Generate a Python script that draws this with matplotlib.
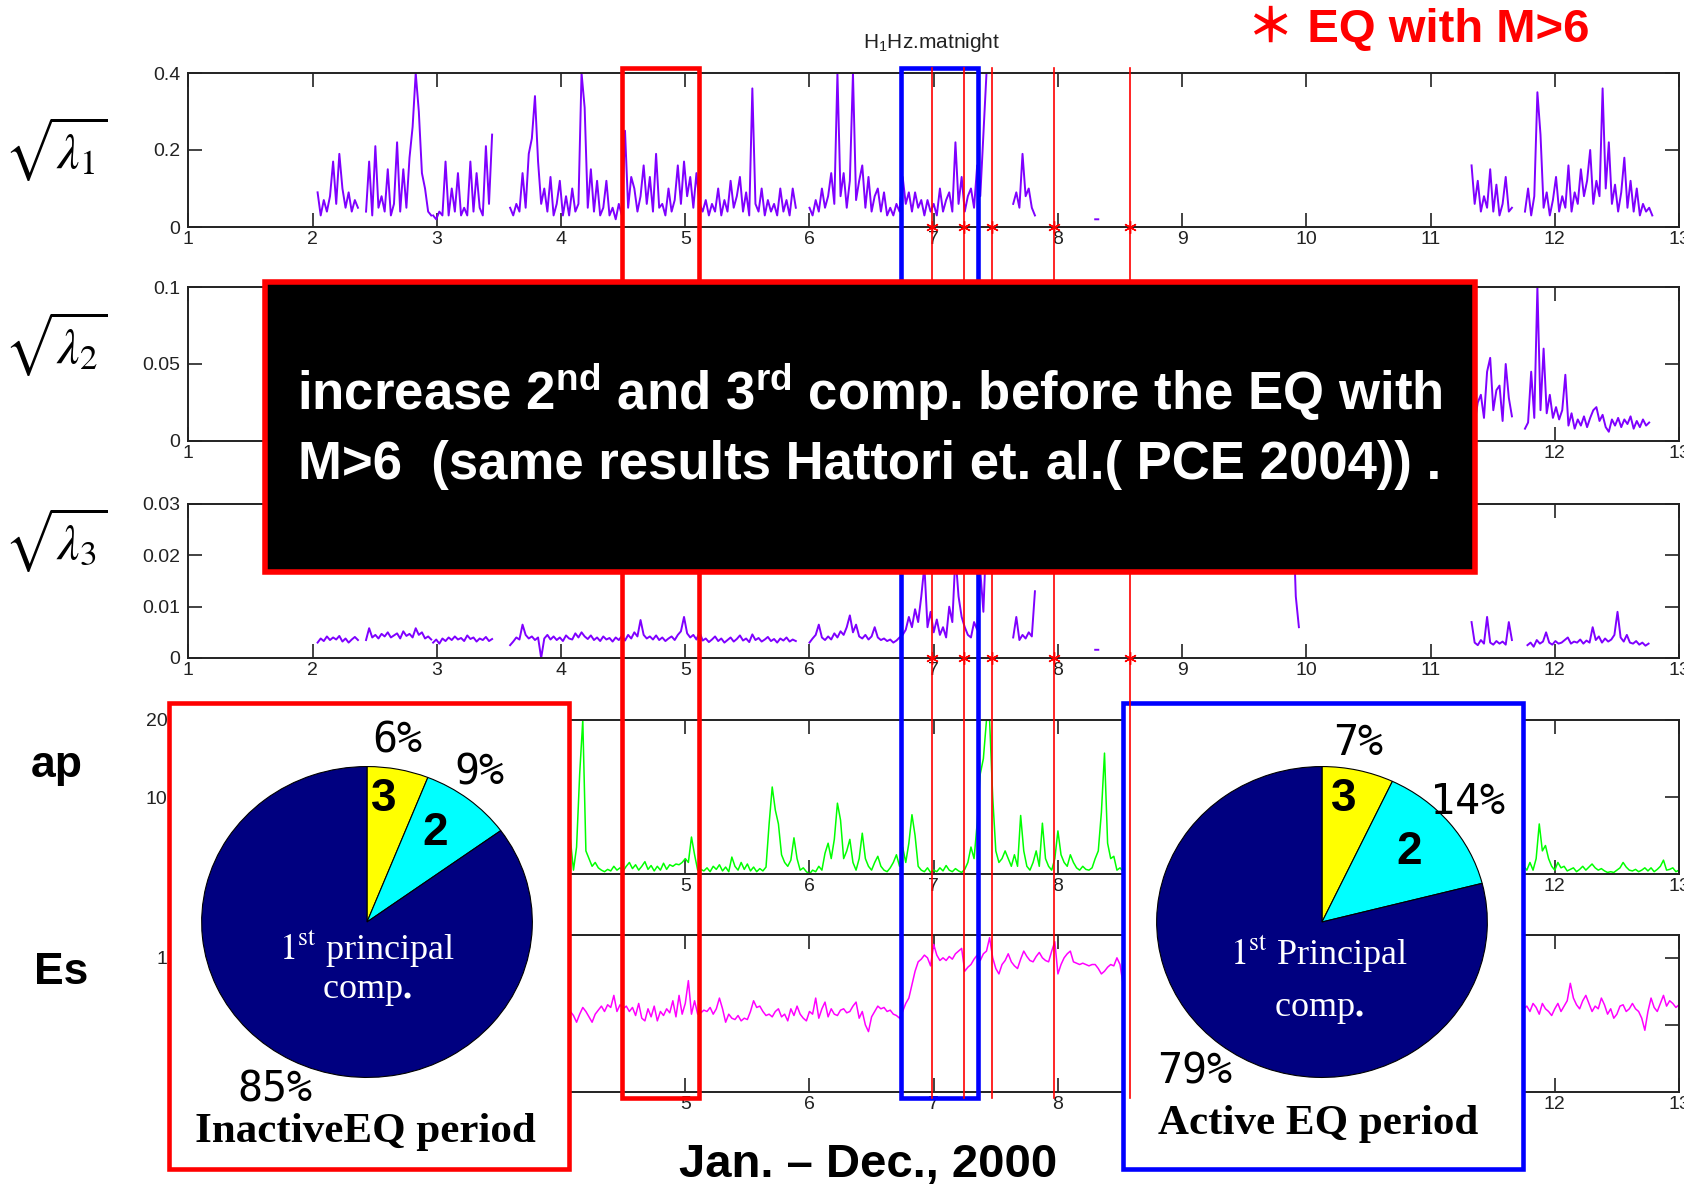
import matplotlib
matplotlib.use("Agg")
import matplotlib.pyplot as plt
import matplotlib.transforms as mtransforms
from matplotlib.patches import Rectangle
import numpy as np

plt.rcParams["font.family"] = ["Liberation Sans", "DejaVu Sans"]
plt.rcParams["mathtext.fontset"] = "custom"
plt.rcParams["mathtext.rm"] = "Liberation Sans"
plt.rcParams["mathtext.bf"] = "Liberation Sans:bold"
plt.rcParams["mathtext.it"] = "Liberation Sans:italic"

# ---------------------------------------------------------------- data
STEP = 0.025
MONTH_TICKS = list(range(1, 14))
EQ_MONTHS = [6.99, 7.24, 7.47, 7.97, 8.58]       # EQ with M>6
INACTIVE_SPAN = (4.49, 5.11)
ACTIVE_SPAN = (6.74, 7.355)

# sqrt(lambda1), units of 0.01
L1_START = [2.04, 2.43, 2.97, 3.59, 6.00, 7.64, 8.30, 11.33, 11.76]
L1_VALS = [
    [9, 3, 7, 4, 8, 17, 6, 19, 10, 5, 9, 4, 7, 5],
    [4, 17, 3, 21, 5, 8, 4, 15, 3, 6, 22, 4, 15, 5, 18, 26, 40, 30, 14, 10, 4, 3],
    [3, 2, 4, 3, 17, 3, 10, 4, 14, 3, 5, 3, 17, 4, 14, 5, 3, 21, 6, 24],
    [5, 3, 6, 4, 14, 5, 19, 23, 34, 17, 6, 10, 4, 13, 3, 6, 12, 3, 8, 3,
     10, 4, 6, 40, 31, 5, 15, 4, 12, 3, 5, 12, 3, 5, 2, 6, 3, 25, 5, 13,
     10, 4, 8, 16, 6, 13, 4, 19, 5, 6, 3, 10, 4, 7, 16, 6, 17, 8, 13, 5,
     14, 6, 4, 7, 3, 6, 4, 10, 3, 7, 4, 12, 5, 8, 13, 4, 9, 3, 36, 6,
     4, 10, 3, 7, 4, 6, 3, 10, 4, 7, 3, 10, 5],
    [5, 3, 7, 4, 10, 5, 8, 14, 6, 40, 8, 14, 5, 12, 40, 7, 12, 16, 5, 13,
     4, 8, 10, 4, 9, 3, 5, 3, 6, 4, 13, 6, 9, 4, 9, 5, 7, 3, 7, 4,
     6, 3, 10, 4, 7, 9, 4, 22, 6, 13, 4, 8, 10, 5, 16, 8, 24, 40, 40],
    [6, 9, 5, 19, 8, 10, 5, 3],
    [2, 2],
    [16, 6, 12, 4, 8, 5, 15, 4, 11, 3, 6, 13, 4, 5],
    [4, 10, 3, 8, 35, 24, 5, 9, 3, 7, 13, 4, 8, 5, 16, 4, 9, 6, 15, 8,
     12, 20, 6, 12, 8, 36, 10, 22, 6, 11, 4, 9, 18, 5, 12, 4, 10, 3, 6, 4, 5, 3],
]

# sqrt(lambda2), units of 0.001
L2_START = [11.33, 11.76]
L2_VALS = [
    [20, 12, 25, 30, 15, 45, 54, 20, 33, 36, 13, 50, 28, 16],
    [8, 12, 45, 15, 100, 20, 60, 18, 30, 15, 22, 14, 20, 43, 10, 18, 8, 14, 10, 16,
     9, 15, 20, 22, 13, 17, 9, 6, 14, 10, 15, 9, 14, 11, 16, 8, 13, 9, 14, 10, 12],
]

# sqrt(lambda3), units of 0.0001
L3_START = [2.04, 2.43, 2.97, 3.59, 6.00, 7.64, 8.30, 9.89, 11.33, 11.78]
L3_VALS = [
    [30, 38, 33, 42, 35, 40, 36, 43, 32, 38, 30, 36, 41, 35],
    [35, 58, 40, 45, 38, 47, 42, 50, 40, 44, 48, 38, 52, 43, 47, 40, 58, 45, 50, 38, 42, 36],
    [30, 36, 28, 38, 33, 40, 35, 42, 36, 39, 33, 44, 37, 40, 32, 38, 35, 41, 33, 37],
    [25, 32, 40, 36, 65, 45, 38, 42, 35, 40, 0, 38, 45, 36, 42, 35, 40, 33, 44, 38,
     36, 48, 40, 50, 42, 37, 44, 35, 40, 33, 42, 36, 39, 32, 40, 35, 43, 34, 45, 38,
     50, 42, 74, 45, 38, 42, 36, 44, 35, 40, 33, 38, 42, 35, 45, 52, 80, 48, 40, 45,
     36, 50, 34, 38, 31, 36, 42, 33, 38, 30, 35, 40, 32, 37, 44, 34, 38, 31, 46, 35,
     39, 32, 36, 41, 33, 37, 30, 38, 34, 40, 32, 36, 33],
    [30, 38, 45, 65, 40, 35, 42, 36, 48, 40, 52, 45, 60, 83, 50, 65, 42, 38, 45, 36,
     42, 60, 40, 35, 38, 33, 36, 30, 34, 40, 45, 55, 80, 60, 95, 70, 120, 180, 60, 90,
     50, 75, 45, 60, 40, 100, 70, 200, 120, 80, 60, 45, 40, 70, 55, 170, 90, 250, 200],
    [40, 80, 35, 45, 38, 50, 42, 130],
    [16, 16],
    [300, 120, 60],
    [70, 30, 25, 35, 28, 80, 30, 26, 33, 28, 32, 26, 70, 35],
    [25, 30, 22, 35, 28, 32, 50, 30, 26, 33, 28, 30, 35, 40, 28, 32, 30, 36, 28, 34,
     30, 60, 35, 42, 30, 38, 32, 36, 45, 90, 40, 32, 45, 30, 28, 33, 26, 30, 24, 28],
]

# ap index
AP_START = [4.0, 11.75]
AP_VALS = [
    [1.0, 2.0, 1.0, 4.5, 0.5, 3.5, 13.0, 20.0, 3.0, 2.0,
     1.0, 1.5, 0.8, 0.5, 0.3, 0.6, 0.4, 1.0, 0.5, 0.8,
     0.4, 1.0, 1.5, 0.7, 1.2, 0.5, 1.0, 1.6, 0.6, 1.1,
     0.4, 1.0, 0.5, 1.4, 0.6, 1.2, 1.0, 1.3, 1.2, 1.5,
     2.0, 1.5, 4.8, 2.5, 0.5, 0.6, 0.4, 0.8, 0.3, 1.0,
     0.6, 1.2, 0.4, 0.9, 0.3, 2.2, 1.0, 0.5, 1.5, 0.6,
     1.3, 0.4, 0.9, 0.3, 0.7, 0.4, 0.9, 6.5, 11.3, 8.3,
     6.5, 2.5, 1.5, 1.0, 1.8, 4.7, 2.0, 0.5, 0.8, 0.3,
     0.0, 0.5, 0.3, 1.0, 0.5, 2.7, 4.0, 2.0, 4.5, 9.2,
     7.0, 2.0, 3.0, 4.5, 1.5, 0.5, 2.0, 5.3, 2.0, 1.0,
     0.5, 1.5, 2.3, 1.0, 0.5, 0.3, 0.8, 1.5, 2.5, 1.0,
     3.5, 1.5, 4.0, 7.7, 5.0, 1.0, 0.5, 0.3, 0.8, 0.2,
     0.5, 0.3, 0.8, 0.4, 1.1, 0.5, 0.3, 0.7, 0.4, 0.2,
     0.6, 1.5, 3.5, 2.0, 6.6, 13.0, 15.0, 20.0, 20.0, 10.0,
     3.0, 1.5, 2.0, 3.0, 2.0, 1.0, 2.5, 1.0, 7.6, 3.0,
     1.0, 0.5, 1.5, 3.0, 1.0, 6.6, 2.0, 1.0, 0.5, 2.0,
     5.6, 2.5, 1.5, 1.0, 2.5, 1.5, 0.8, 0.5, 1.0, 0.6,
     0.5, 0.8, 2.0, 3.0, 8.0, 15.7, 4.0, 2.0, 2.3, 0.5,
     0.8, 0.3, 1.0, 0.5, 1.2],
    [1.0, 0.5, 1.5, 0.5, 2.0, 6.5, 3.0, 3.7, 2.0, 1.0,
     0.5, 1.5, 0.8, 1.0, 0.4, 0.6, 0.8, 0.3, 0.6, 1.0,
     0.5, 0.9, 1.3, 0.8, 0.5, 0.7, 0.4, 0.2, 0.3, 0.2,
     0.5, 0.8, 1.5, 0.9, 0.5, 0.4, 0.6, 0.3, 0.5, 0.8,
     0.4, 0.8, 0.3, 0.6, 1.0, 1.8, 0.5, 0.6, 0.8, 0.3, 0.5],
]

# Es, units of 0.01
ES_START = [4.0, 11.75]
ES_VALS = [
    [58, 62, 55, 60, 57, 52, 58, 63, 60, 56, 52, 58, 61, 64, 60, 65, 63, 72, 60, 65,
     62, 64, 60, 63, 57, 66, 55, 53, 62, 56, 64, 53, 60, 57, 62, 59, 68, 56, 72, 58,
     66, 83, 58, 68, 58, 59, 61, 60, 63, 58, 62, 70, 62, 52, 58, 55, 54, 57, 53, 55,
     54, 60, 68, 63, 64, 60, 57, 58, 56, 60, 62, 56, 58, 53, 62, 57, 64, 58, 55, 53,
     60, 58, 70, 55, 62, 67, 56, 62, 58, 57, 61, 62, 59, 60, 64, 67, 55, 60, 50, 45,
     56, 60, 64, 62, 63, 60, 61, 58, 57, 55, 60, 66, 70, 80, 90, 97, 99, 102, 100, 94,
     110, 102, 98, 100, 98, 101, 99, 103, 105, 107, 90, 93, 95, 99, 102, 98, 103, 105, 115, 100,
     92, 88, 95, 98, 103, 97, 94, 92, 99, 105, 101, 98, 97, 101, 104, 100, 98, 97, 105, 112,
     88, 95, 100, 103, 105, 97, 96, 95, 96, 95, 94, 95, 95, 92, 88, 90, 93, 95, 94, 100,
     95, 80, 85],
    [62, 64, 60, 66, 63, 58, 66, 62, 60, 57, 62, 66, 60, 64, 68, 81, 70, 65, 62, 68,
     72, 66, 60, 64, 62, 70, 65, 58, 62, 55, 58, 64, 65, 60, 62, 66, 62, 60, 55, 46,
     60, 70, 63, 60, 66, 72, 64, 68, 66, 63, 65],
]

PIE_INACTIVE = [6, 9, 85]     # comp. 3, 2, 1  (%)
PIE_ACTIVE = [7, 14, 79]

PURPLE = "#7F00FF"
AXCOL = "#222222"
PIE_COLORS = ["#FFFF00", "#00FFFF", "#000080"]


def trace(starts, segs, scale):
    xs, ys = [], []
    for t0, seg in zip(starts, segs):
        xs += [t0 + STEP * k for k in range(len(seg))] + [np.nan]
        ys += [v * scale for v in seg] + [np.nan]
    return np.array(xs), np.array(ys)


W, H = 1684, 1192
X0, X1 = 188.4, 1679.0
fig = plt.figure(figsize=(W / 100, H / 100), dpi=100)
fig.patch.set_facecolor("white")

# panels: top / bottom edge in pixels
PANEL_PX = [(73, 227), (287, 441), (504, 658), (720, 874), (935, 1092)]
axes = []
for top, bot in PANEL_PX:
    ax = fig.add_axes([X0 / W, 1 - bot / H, (X1 - X0) / W, (bot - top) / H])
    ax.set_xlim(1, 13)
    ax.set_xticks(MONTH_TICKS)
    ax.set_xticklabels([str(m) for m in MONTH_TICKS])
    ax.tick_params(direction="in", length=10, width=1.2, top=True, right=True,
                   labelsize=14, colors=AXCOL)
    ax.tick_params(axis="x", pad=3)
    ax.tick_params(axis="y", pad=6)
    for s in ax.spines.values():
        s.set_linewidth(1.4)
        s.set_color(AXCOL)
    axes.append(ax)
ax1, ax2, ax3, ax4, ax5 = axes

ax1.plot(*trace(L1_START, L1_VALS, 0.01), color=PURPLE, lw=1.4)
ax1.set_ylim(0, 0.4)
ax1.set_yticks([0, 0.2, 0.4], ["0", "0.2", "0.4"])

ax2.plot(*trace(L2_START, L2_VALS, 0.001), color=PURPLE, lw=1.4)
ax2.set_ylim(0, 0.1)
ax2.set_yticks([0, 0.05, 0.1], ["0", "0.05", "0.1"])

ax3.plot(*trace(L3_START, L3_VALS, 0.0001), color=PURPLE, lw=1.4)
ax3.set_ylim(0, 0.03)
ax3.set_yticks([0, 0.01, 0.02, 0.03], ["0", "0.01", "0.02", "0.03"])

ax4.plot(*trace(AP_START, AP_VALS, 1.0), color="#00FF00", lw=1.1)
ax4.set_ylim(0, 20)
ax4.set_yticks([0, 10, 20], ["", "10", "20"])

ax5.plot(*trace(ES_START, ES_VALS, 0.01), color="#FF00FF", lw=1.1)
ax5.set_ylim(0, 1.17)
ax5.set_yticks([0.5, 1], ["", "1"])

for ax in (ax4, ax5):
    ax.tick_params(axis="y", pad=15)

for ax in (ax1, ax3):
    ax.plot(EQ_MONTHS, [0] * len(EQ_MONTHS), ls="none", marker=(6, 2, 0), ms=9,
            mec="red", mew=1.0, clip_on=False, zorder=5)

# ---------------------------------------------------------------- overlay (pixel coords)
ov = fig.add_axes([0, 0, 1, 1], zorder=3)
ov.set_xlim(0, W)
ov.set_ylim(H, 0)
ov.axis("off")
ov.set_autoscale_on(False)
month_x = mtransforms.blended_transform_factory(ax1.transData, ov.transData)

ov.add_patch(Rectangle((169, 703), 400, 466, fc="white", ec="#FF0000", lw=3.3, zorder=1))
ov.add_patch(Rectangle((1123, 703), 400, 466, fc="white", ec="#0000FF", lw=3.3, zorder=1))

for (m0, m1), col in [(INACTIVE_SPAN, "#FF0000"), (ACTIVE_SPAN, "#0000FF")]:
    ov.add_patch(Rectangle((m0, 68), m1 - m0, 1030, transform=month_x, fill=False,
                           ec=col, lw=3.3, zorder=2))
for m in EQ_MONTHS:
    ov.plot([m, m], [68, 1098], transform=month_x, color="#FF0000", lw=1.2, zorder=2)

ov.add_patch(Rectangle((265, 282), 1210, 290, fc="black", ec="#FF0000", lw=4, zorder=4))
ov.text(870, 392, r"increase $\mathbf{2^{nd}}$ and $\mathbf{3^{rd}}$ comp. before the EQ with",
        color="white", fontsize=38, fontweight="bold", ha="center", va="center", zorder=5)
ov.text(870, 465, "M>6  (same results Hattori et. al.( PCE 2004)) .",
        color="white", fontsize=38, fontweight="bold", ha="center", va="center", zorder=5)

# left labels
for y, k in [(149, 1), (344, 2), (540, 3)]:
    ov.text(56, y, r"$\sqrt{\lambda_%d}$" % k, math_fontfamily="stix", fontsize=36,
            ha="center", va="center")
ov.text(57, 765, "ap", fontsize=32, fontweight="bold", ha="center", va="center")
ov.text(61, 972, "Es", fontsize=32, fontweight="bold", ha="center", va="center")

ov.text(932, 43, r"$\mathrm{H_1}$Hz.matnight", fontsize=15, ha="center", va="center",
        color=AXCOL)
ov.text(1418, 29, "＊ EQ with M>6", color="#FF0000", fontsize=34, fontweight="bold",
        family=["Liberation Sans", "Noto Sans CJK JP"], ha="center", va="center")
ov.text(868, 1165, "Jan. – Dec., 2000", fontsize=34, fontweight="bold",
        ha="center", va="center")

ov.text(365, 1132, "InactiveEQ period", family="Liberation Serif", fontweight="bold",
        fontsize=31, ha="center", va="center")
ov.text(1318, 1124, "Active EQ period", family="Liberation Serif", fontweight="bold",
        fontsize=31, ha="center", va="center")


# ---------------------------------------------------------------- pies
def draw_pie(cx, cy, values, labels):
    rx, ry = 167, 157
    pa = fig.add_axes([(cx - rx) / W, 1 - (cy + ry) / H, 2 * rx / W, 2 * ry / H], zorder=4)
    pa.pie(values, colors=PIE_COLORS, startangle=90, counterclock=False,
           wedgeprops=dict(edgecolor="black", linewidth=0.8))
    pa.set_aspect("auto")
    pa.set_xlim(-1.01, 1.01)
    pa.set_ylim(-1.01, 1.01)
    pa.axis("off")
    for (x, y), txt, kind in labels:
        if kind == "pct":
            pa.text(x, y, txt, family="DejaVu Sans Mono", fontsize=30, ha="center", va="center")
        elif kind == "num":
            pa.text(x, y, txt, fontsize=33, fontweight="bold", ha="center", va="center")
        else:
            pa.text(x, y, txt, family="Liberation Serif", math_fontfamily="stix",
                    fontsize=26, color="white", ha="center", va="center")


draw_pie(367, 922, PIE_INACTIVE, [
    ((0.18, 1.17), "6%", "pct"), ((0.68, 0.96), "9%", "pct"), ((-0.56, -1.08), "85%", "pct"),
    ((0.10, 0.79), "3", "num"), ((0.41, 0.57), "2", "num"),
    ((0.0, -0.17), r"$\mathrm{1^{st}}$ principal", "txt"),
    ((0.0, -0.45), r"comp$\mathbf{.}$", "txt"),
])
draw_pie(1322, 922, PIE_ACTIVE, [
    ((0.22, 1.15), "7%", "pct"), ((0.88, 0.77), "14%", "pct"), ((-0.77, -0.96), "79%", "pct"),
    ((0.13, 0.79), "3", "num"), ((0.53, 0.45), "2", "num"),
    ((-0.02, -0.20), r"$\mathrm{1^{st}}$ Principal", "txt"),
    ((-0.02, -0.56), r"comp$\mathbf{.}$", "txt"),
])

fig.savefig("out.png", dpi=100)
